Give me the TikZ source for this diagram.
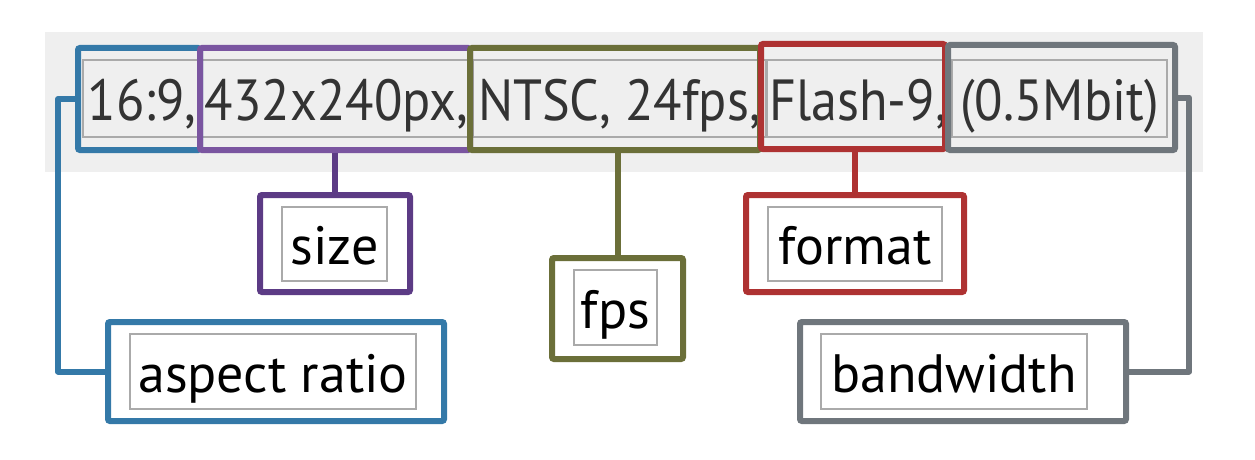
\documentclass[tikz,border=0pt]{standalone}
\usepackage{fontspec}
\setmainfont{PT Sans}
\newfontfamily\topfont[FakeStretch=0.9]{PT Sans}
\definecolor{cbg}{HTML}{EFEFEF}
\definecolor{cblue}{HTML}{3479A8}
\definecolor{cpurple}{HTML}{7A55A0}
\definecolor{cpurpled}{HTML}{5C3B85}
\definecolor{colive}{HTML}{6B6F39}
\definecolor{cred}{HTML}{AE3232}
\definecolor{cgray}{HTML}{6F767C}
\definecolor{cinner}{HTML}{AAAAAA}
\definecolor{ctext}{HTML}{333333}
\tikzset{
  frame/.style={draw=#1, line width=6pt, rounded corners=2pt, inner sep=0pt, rectangle},
  topbox/.style={draw=cinner, line width=1.5pt, inner sep=0pt, text=ctext,
    font=\topfont\fontsize{58}{60}\selectfont, text height=43pt, text depth=0pt, minimum height=77pt},
  lblbox/.style={draw=cinner, line width=1.5pt, inner sep=0pt, text=black, fill=white,
    font=\fontsize{54}{56}\selectfont, text height=41pt, text depth=0pt, minimum height=75pt},
  link/.style={line width=6pt, line join=round}
}
\begin{document}
\begin{tikzpicture}[x=1pt,y=-1pt]
\useasboundingbox (0,0) rectangle (1255,460);
\fill[cbg] (45,32) rectangle (1203,172);
% top text boxes
\node[topbox, minimum width=118pt] (t1) at (142,98.5) {16:9,};
\node[topbox, minimum width=269pt] (t2) at (336.5,98.5) {432x240px,};
\node[topbox, minimum width=293pt] (t3) at (619.5,98.5) {NTSC, 24fps,};
\node[topbox, minimum width=182pt] (t4) at (858,98.5) {Flash-9,};
\node[topbox, minimum width=215pt] (t5) at (1059.5,98.5) {(0.5Mbit)};
% top frames
\node[frame=cblue, minimum width=122pt, minimum height=102pt] (blue) at (139,99) {};
\node[frame=cpurple, minimum width=270pt, minimum height=102pt] (purple) at (335,99) {};
\node[frame=colive, minimum width=290pt, minimum height=102pt] (olive) at (615,99) {};
\node[frame=cred, minimum width=184pt, minimum height=105pt] (red) at (853,96.5) {};
\node[frame=cgray, minimum width=227pt, minimum height=105pt] (gray) at (1061.5,97.5) {};
% bottom label frames
\node[frame=cpurpled, minimum width=150pt, minimum height=97pt] (sz) at (335,243.5) {};
\node[frame=colive, minimum width=131pt, minimum height=101pt] (fps) at (617.5,308.5) {};
\node[frame=cred, minimum width=218pt, minimum height=97pt] (fmt) at (855,243.5) {};
\node[frame=cblue, minimum width=336pt, minimum height=99pt] (asp) at (276,371.5) {};
\node[frame=cgray, minimum width=326pt, minimum height=99pt] (bw) at (963,371.5) {};
% bottom labels
\node[lblbox, minimum width=105pt, minimum height=74pt] (lsz) at (334.5,244) {size};
\node[lblbox, minimum width=83pt] (lfps) at (615.5,307.5) {fps};
\node[lblbox, minimum width=174pt, minimum height=74pt] (lfmt) at (855,244) {format};
\node[lblbox, minimum width=286pt] (lasp) at (273,371.5) {aspect ratio};
\node[lblbox, minimum width=266pt] (lbw) at (954,371.5) {bandwidth};
% connectors
\draw[link, cpurpled] (sz.north) -- (sz.north |- purple.south);
\draw[link, colive] (fps.north) -- (fps.north |- olive.south);
\draw[link, cred] (fmt.north) -- (fmt.north |- red.south);
\draw[link, cblue] (blue.west) -- ++(-17,0) |- (asp.west);
\draw[link, cgray] (gray.east) -- ++(11,0) |- (bw.east);
\end{tikzpicture}
\end{document}
